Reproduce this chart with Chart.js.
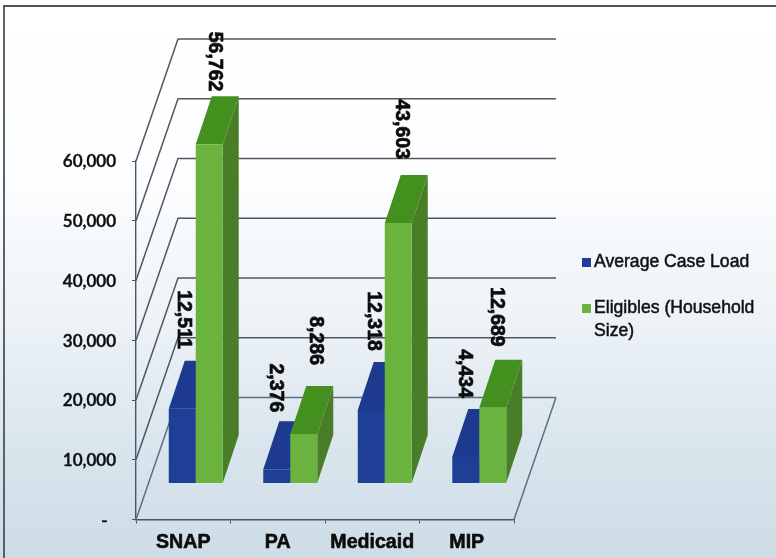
<!DOCTYPE html>
<html>
<head>
<meta charset="utf-8">
<title>Average Case Load vs Eligibles</title>
<script src="https://cdn.jsdelivr.net/npm/chart.js@4"></script>
<style>
    html, body { margin: 0; padding: 0; background: #f4f7f9; }
    #frame {
        position: absolute; left: 0; top: 0; width: 776px; height: 558px; overflow: hidden;
        background: linear-gradient(180deg, #ffffff 0%, #fdfeff 30%, #eff4f8 55%, #dde8ef 75%, #cddce6 100%);
    }
    #chart { position: absolute; left: 0; top: 0; filter: blur(0.4px); }
</style>
</head>
<body>
<div id="frame"><canvas id="chart" width="776" height="558"></canvas></div>
<script>
// datos
const categories = ["SNAP", "PA", "Medicaid", "MIP"];
const caseLoad = [12511, 2376, 12318, 4434];
const eligibles = [56762, 8286, 43603, 12689];
const yTicks = [0, 10000, 20000, 30000, 40000, 50000, 60000];
const legendLines = [["Average Case Load"], ["Eligibles (Household", "Size)"]];

// colores
const colFront = ["#1f3f97", "#6bb33f"];
const colTop = ["#1d3a8e", "#43901f"];
const colSide = ["#18306f", "#4a7d27"];

// profundidad de la pared y de las barras (px)
const wallDX = 42, wallDY = 122;
const barShiftX = 12.5, barShiftY = 36;
const barDX = 16, barDY = 48;

// ajuste manual de las etiquetas, como en el original
const labelDx = [[1, -1, 2, -1], [5, 12, 3, 4]];
const labelGap = [[12, 9, 11, 11], [5, 21, 16, 13]];

function poly(ctx, pts, fill) {
    ctx.beginPath();
    pts.forEach((p, i) => i ? ctx.lineTo(p[0], p[1]) : ctx.moveTo(p[0], p[1]));
    ctx.closePath();
    ctx.fillStyle = fill;
    ctx.fill();
}

const frame3d = {
    id: "frame3d",
    beforeDatasetsDraw(chart) {
        const { ctx, scales: { x, y } } = chart;
        const left = x.left, right = x.right, base = y.getPixelForValue(0);
        ctx.save();

        // marco
        ctx.strokeStyle = "#4d5359";
        ctx.lineWidth = 1.8;
        ctx.beginPath();
        ctx.moveTo(776, 6); ctx.lineTo(4, 6); ctx.lineTo(4, 558);
        ctx.stroke();

        // rejilla de la pared y lateral
        yTicks.forEach(v => {
            const py = y.getPixelForValue(v);
            ctx.strokeStyle = v === 0 ? "#5f6e85" : "#52565e";
            ctx.lineWidth = 1.5;
            ctx.beginPath();
            ctx.moveTo(left, py);
            ctx.lineTo(left + wallDX, py - wallDY);
            ctx.lineTo(right + wallDX, py - wallDY);
            ctx.stroke();
        });

        // borde derecho del suelo
        ctx.strokeStyle = "#5f6e85";
        ctx.beginPath();
        ctx.moveTo(right, base);
        ctx.lineTo(right + wallDX, base - wallDY);
        ctx.stroke();

        // caras superior y lateral, primero azul y luego verde
        [0, 1].forEach(d => {
            chart.getDatasetMeta(d).data.forEach(bar => {
                const xl = bar.x - bar.width / 2 + barShiftX;
                const xr = bar.x + bar.width / 2 + barShiftX;
                const yt = bar.y - barShiftY;
                const yb = bar.base - barShiftY;
                poly(ctx, [[xr, yt], [xr + barDX, yt - barDY], [xr + barDX, yb - barDY], [xr, yb]], colSide[d]);
                poly(ctx, [[xl, yt], [xl + barDX, yt - barDY], [xr + barDX, yt - barDY], [xr, yt]], colTop[d]);
            });
        });
        ctx.restore();
    },
    // la cara frontal es la barra normal, movida sobre el suelo
    beforeDatasetDraw(chart) {
        chart.ctx.save();
        chart.ctx.translate(barShiftX, -barShiftY);
    },
    afterDatasetDraw(chart) {
        chart.ctx.restore();
    },
    afterDatasetsDraw(chart) {
        const { ctx } = chart;
        ctx.save();

        // etiquetas de valor giradas
        ctx.font = "bold 19.5px 'Liberation Sans'";
        ctx.fillStyle = "#0c0c0c";
        ctx.strokeStyle = "#0c0c0c";
        ctx.lineWidth = 0.7;
        ctx.textAlign = "right";
        ctx.textBaseline = "middle";
        [0, 1].forEach(d => {
            chart.getDatasetMeta(d).data.forEach((bar, i) => {
                const text = chart.data.datasets[d].data[i].toLocaleString("en-US");
                const lx = bar.x + barShiftX + labelDx[d][i];
                const ly = bar.y - barShiftY - barDY - labelGap[d][i];
                ctx.save();
                ctx.translate(lx, ly);
                ctx.rotate(Math.PI / 2);
                ctx.fillText(text, 0, 0);
                ctx.strokeText(text, 0, 0);
                ctx.restore();
            });
        });

        // leyenda
        const legendX = 582, legendY = [262, 308];
        ctx.font = "17.6px 'Liberation Sans'";
        ctx.textAlign = "left";
        ctx.strokeStyle = "#111";
        ctx.lineWidth = 0.5;
        legendLines.forEach((lines, d) => {
            ctx.fillStyle = colFront[d];
            ctx.fillRect(legendX, legendY[d] - 4, 9, 9);
            ctx.fillStyle = "#111";
            lines.forEach((t, k) => {
                ctx.fillText(t, legendX + 12, legendY[d] + k * 23);
                ctx.strokeText(t, legendX + 12, legendY[d] + k * 23);
            });
        });
        ctx.restore();
    }
};

new Chart(document.getElementById("chart"), {
    type: "bar",
    data: {
        labels: categories,
        datasets: [
            { label: "Average Case Load", data: caseLoad, backgroundColor: colFront[0] },
            { label: "Eligibles (Household Size)", data: eligibles, backgroundColor: colFront[1] }
        ]
    },
    options: {
        responsive: false,
        animation: false,
        layout: { padding: { left: 0, top: 161, right: 262, bottom: 0 } },
        datasets: { bar: { barPercentage: 1, categoryPercentage: 0.571, clip: false } },
        plugins: { legend: { display: false }, tooltip: { enabled: false } },
        scales: {
            x: {
                afterFit: s => { s.height = 38.5; },
                grid: { drawOnChartArea: false, tickLength: 4, color: "#4c5566" },
                border: { color: "#4c5566", width: 1.6 },
                ticks: {
                    color: "#0c0c0c",
                    padding: 7,
                    textStrokeColor: "#0c0c0c",
                    textStrokeWidth: 0.6,
                    font: { family: "'Liberation Sans'", size: 19.6, weight: "bold" }
                }
            },
            y: {
                min: 0,
                max: 60000,
                afterFit: s => { s.width = 136; },
                afterBuildTicks: s => { s.ticks = yTicks.map(v => ({ value: v })); },
                grid: { drawOnChartArea: false, tickLength: 4, color: "#4c5566" },
                border: { color: "#4c5566", width: 1.4 },
                ticks: {
                    color: "#0c0c0c",
                    padding: 16,
                    labelOffset: 1,
                    textStrokeColor: "#0c0c0c",
                    textStrokeWidth: 0.4,
                    font: { family: "Lato", size: 17, weight: "600" },
                    callback: v => v === 0 ? "-  " : v.toLocaleString("en-US")
                }
            }
        }
    },
    plugins: [frame3d]
});
</script>
</body>
</html>
